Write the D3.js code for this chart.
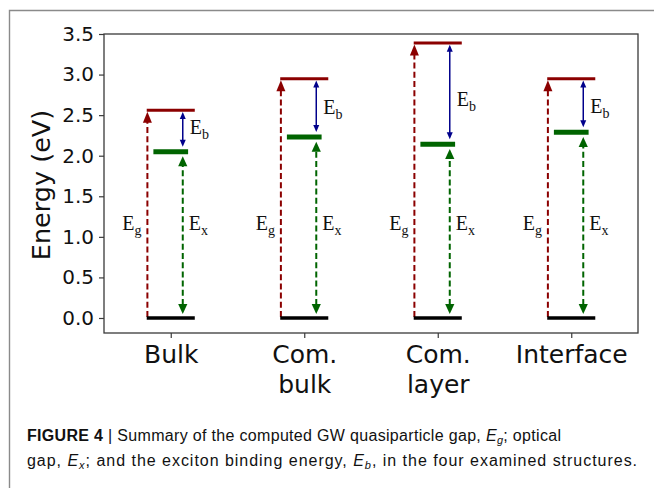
<!DOCTYPE html>
<html>
<head>
<meta charset="utf-8">
<script src="https://cdn.jsdelivr.net/npm/d3@7"></script>
<style>
  html, body { margin: 0; padding: 0; background: #fff; }
  svg { display: block; }
</style>
</head>
<body>
<svg id="fig" width="654" height="488"></svg>
<script>
// Structures and their energy levels (eV)
const categories = [["Bulk"], ["Com.", "bulk"], ["Com.", "layer"], ["Interface"]];
const gapEg = [2.56, 2.95, 3.39, 2.95];      // GW quasiparticle gap
const opticalEx = [2.05, 2.23, 2.14, 2.29];  // optical gap
const ebLabelAt = [2.27, 2.52, 2.61, 2.53];  // where the E_b annotation sits
const yTicks = [0.0, 0.5, 1.0, 1.5, 2.0, 2.5, 3.0, 3.5];
const labelLevel = 1.08;                      // height of the E_g / E_x annotations

const RED = "#8b0000", GREEN = "#006400", BLUE = "#00008b";

const svg = d3.select("#fig");

// outer figure frame (left and top edges)
svg.append("path")
  .attr("d", "M9.5,488 V10.5 H654")
  .attr("fill", "none").attr("stroke", "#8a8a8a").attr("stroke-width", 1.4);

const plot = { left: 104, right: 638, top: 34, bottom: 333 };
const x = d3.scaleLinear().domain([-0.5, 3.5]).range([plot.left, plot.right]);
const y = d3.scaleLinear().domain([-0.185, 3.5]).range([plot.bottom, plot.top]);

const g = svg.append("g");

// axes frame
g.append("rect")
  .attr("x", plot.left).attr("y", plot.top)
  .attr("width", plot.right - plot.left).attr("height", plot.bottom - plot.top)
  .attr("fill", "none").attr("stroke", "#3a3a3a").attr("stroke-width", 1.3);

// y axis
const yAxis = g.append("g")
  .attr("transform", `translate(${plot.left},0)`)
  .call(d3.axisLeft(y).tickValues(yTicks).tickFormat(d3.format(".1f")).tickSize(5).tickPadding(5));
yAxis.select(".domain").remove();
yAxis.selectAll(".tick line").attr("stroke", "#3a3a3a").attr("stroke-width", 1.2);
yAxis.selectAll(".tick text")
  .attr("fill", "#111").style("font-family", "DejaVu Sans").style("font-size", "20px");

// x axis with two-line category labels
const xAxis = g.append("g")
  .attr("transform", `translate(0,${plot.bottom})`)
  .call(d3.axisBottom(x).tickValues(d3.range(categories.length)).tickFormat("").tickSize(5));
xAxis.select(".domain").remove();
xAxis.selectAll(".tick line").attr("stroke", "#3a3a3a").attr("stroke-width", 1.2);
xAxis.selectAll(".tick text")
  .attr("fill", "#111").attr("y", 30).attr("dy", 0)
  .style("font-family", "DejaVu Sans").style("font-size", "25px")
  .each(function (d) {
    const t = d3.select(this);
    categories[d].forEach((line, i) => {
      t.append("tspan").attr("x", 0).attr("dy", i === 0 ? 0 : 30).text(line);
    });
  });

// y axis title
g.append("text")
  .attr("transform", `translate(50,185) rotate(-90)`)
  .attr("text-anchor", "middle")
  .attr("fill", "#111")
  .style("font-family", "DejaVu Sans").style("font-size", "25.5px")
  .text("Energy (eV)");

// helpers
function head(sel, xt, yt, dir, len, hw, color) {
  // dir = -1 points up, +1 points down
  const yb = yt - dir * len;
  sel.append("path")
    .attr("d", `M${xt},${yt} L${xt - hw},${yb} L${xt + hw},${yb} Z`)
    .attr("fill", color);
}
function label(sel, xp, yp, sub, anchor) {
  const t = sel.append("text")
    .attr("x", xp).attr("y", yp)
    .attr("text-anchor", anchor)
    .attr("fill", "#111")
    .style("font-family", "Liberation Serif").style("font-size", "20px");
  t.append("tspan").text("E");
  t.append("tspan").attr("dy", 5).style("font-size", "14px").text(sub);
}

const halfLevel = 0.18, halfOpt = 0.13, arrowOff = 0.09;

const groups = g.selectAll(".level").data(d3.range(categories.length)).join("g").attr("class", "level");

groups.each(function (i) {
  const s = d3.select(this);
  const eg = gapEg[i], ex = opticalEx[i];
  const xr = x(i - 0.175), xg = x(i + arrowOff);

  // E_g arrow (dashed, from 0 up to the quasiparticle level)
  const redTip = y(eg) + 1.5;
  s.append("line")
    .attr("x1", xr).attr("x2", xr).attr("y1", y(0) - 1).attr("y2", redTip + 10)
    .attr("stroke", RED).attr("stroke-width", 2).attr("stroke-dasharray", "6,3.2");
  head(s, xr, redTip, -1, 11, 4.5, RED);

  // E_x arrow (dashed, double headed between 0 and the optical level)
  const gTop = y(ex) + 4.7, gBot = y(0) - 4;
  s.append("line")
    .attr("x1", xg).attr("x2", xg).attr("y1", gBot - 9).attr("y2", gTop + 9)
    .attr("stroke", GREEN).attr("stroke-width", 2).attr("stroke-dasharray", "6,3.2");
  head(s, xg, gTop, -1, 10, 4.6, GREEN);
  head(s, xg, gBot, 1, 10, 4.6, GREEN);

  // E_b arrow (solid, double headed between the two levels)
  const bTop = y(eg) + 1.8, bBot = y(ex) - 5;
  s.append("line")
    .attr("x1", xg).attr("x2", xg).attr("y1", bTop + 6).attr("y2", bBot - 6)
    .attr("stroke", BLUE).attr("stroke-width", 1.5);
  head(s, xg, bTop, -1, 7, 3, BLUE);
  head(s, xg, bBot, 1, 7, 3, BLUE);

  // energy levels
  s.append("line")
    .attr("x1", x(i - halfLevel)).attr("x2", x(i + halfLevel))
    .attr("y1", y(eg)).attr("y2", y(eg))
    .attr("stroke", RED).attr("stroke-width", 3);
  s.append("line")
    .attr("x1", x(i - halfOpt)).attr("x2", x(i + halfOpt))
    .attr("y1", y(ex)).attr("y2", y(ex))
    .attr("stroke", GREEN).attr("stroke-width", 5);
  s.append("line")
    .attr("x1", x(i - halfLevel)).attr("x2", x(i + halfLevel))
    .attr("y1", y(0)).attr("y2", y(0))
    .attr("stroke", "#000").attr("stroke-width", 3.5);

  // annotations
  label(s, xr - 6, y(labelLevel), "g", "end");
  label(s, xg + 6, y(labelLevel), "x", "start");
  label(s, xg + 7, y(ebLabelAt[i]), "b", "start");
});

// caption
const cap = svg.append("g")
  .attr("fill", "#111")
  .style("font-family", "Liberation Sans").style("font-size", "16px");

const l1 = cap.append("text").attr("x", 27).attr("y", 441);
l1.append("tspan").style("font-weight", "bold").text("FIGURE 4");
l1.append("tspan").text(" | Summary of the computed GW quasiparticle gap, ");
l1.append("tspan").style("font-style", "italic").text("E");
l1.append("tspan").style("font-style", "italic").style("font-size", "11px").attr("dy", 3).text("g");
l1.append("tspan").attr("dy", -3).text("; optical");

const l2 = cap.append("text").attr("x", 27).attr("y", 466);
l2.append("tspan").text("gap, ");
l2.append("tspan").style("font-style", "italic").text("E");
l2.append("tspan").style("font-style", "italic").style("font-size", "11px").attr("dy", 3).text("x");
l2.append("tspan").attr("dy", -3).text("; and the exciton binding energy, ");
l2.append("tspan").style("font-style", "italic").text("E");
l2.append("tspan").style("font-style", "italic").style("font-size", "11px").attr("dy", 3).text("b");
l2.append("tspan").attr("dy", -3).text(", in the four examined structures.");

// spread each caption line to its column width
[[l1, 534], [l2, 610]].forEach(([t, target]) => {
  const node = t.node();
  const natural = node.getComputedTextLength();
  const n = node.textContent.length;
  t.style("letter-spacing", `${(target - natural) / (n - 1)}px`);
});
</script>
</body>
</html>
